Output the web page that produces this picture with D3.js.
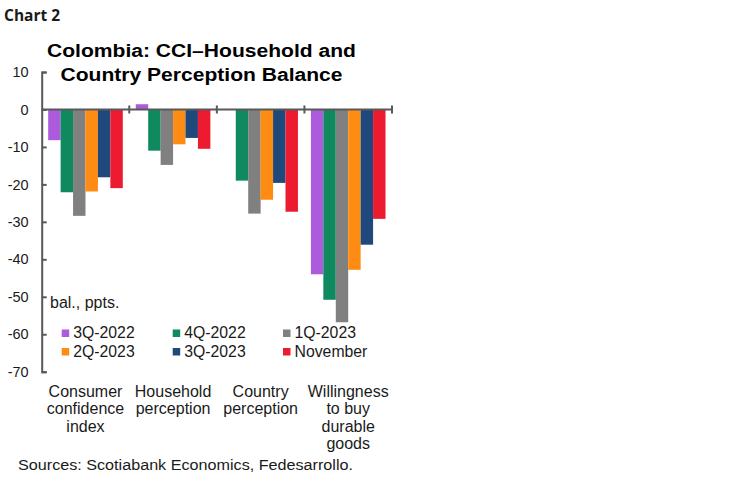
<!DOCTYPE html>
<html>
<head>
<meta charset="utf-8">
<script src="https://cdn.jsdelivr.net/npm/d3@7"></script>
<style>
  html, body { margin: 0; padding: 0; background: #fff; }
  svg { display: block; }
  text { font-family: "Liberation Sans", Arial, sans-serif; fill: #1a1a1a; }
</style>
</head>
<body>
<div id="chart"></div>
<script>
// ---- data ----
const categories = [
  ["Consumer", "confidence", "index"],
  ["Household", "perception"],
  ["Country", "perception"],
  ["Willingness", "to buy", "durable", "goods"]
];
const seriesNames = ["3Q-2022", "4Q-2022", "1Q-2023", "2Q-2023", "3Q-2023", "November"];
const seriesColors = ["#ad5bdd", "#0e8a5e", "#808080", "#ff8c12", "#1f497d", "#ed1b2f"];

const s3Q2022 = [-8.2, 1.4, null, -44.0];
const s4Q2022 = [-22.1, -11.0, -19.0, -50.8];
const s1Q2023 = [-28.4, -14.8, -27.8, -56.8];
const s2Q2023 = [-21.9, -9.3, -24.1, -42.8];
const s3Q2023 = [-18.1, -7.6, -19.6, -36.1];
const sNovember = [-21.0, -10.5, -27.3, -29.2];
const seriesValues = [s3Q2022, s4Q2022, s1Q2023, s2Q2023, s3Q2023, sNovember];

const yTicks = [10, 0, -10, -20, -30, -40, -50, -60, -70];

// ---- layout ----
const width = 750, height = 482;
const axisColor = "#595959";

const svg = d3.select("#chart").append("svg")
  .attr("width", width)
  .attr("height", height);

svg.append("rect").attr("width", width).attr("height", height).attr("fill", "#fff");

const y = d3.scaleLinear().domain([-70, 10]).range([371.7, 72]);

const x0 = d3.scaleBand()
  .domain(d3.range(categories.length))
  .range([41.7, 392])
  .paddingInner(0.148)
  .paddingOuter(0.074);

const x1 = d3.scaleBand()
  .domain(d3.range(seriesNames.length))
  .range([0, x0.bandwidth()]);

// Header
svg.append("text")
  .attr("x", 4).attr("y", 21)
  .style("font-family", "'Open Sans', sans-serif")
  .style("font-weight", "bold")
  .style("font-size", "15.5px")
  .text("Chart 2");

const titleLines = ["Colombia: CCI\u2013Household and", "Country Perception Balance"];
const titleWidths = [309, 282];
svg.append("g").selectAll("text")
  .data(titleLines)
  .join("text")
  .attr("x", 201.5)
  .attr("y", (d, i) => 57 + i * 23.5)
  .attr("text-anchor", "middle")
  .attr("textLength", (d, i) => titleWidths[i])
  .attr("lengthAdjust", "spacingAndGlyphs")
  .style("font-weight", "bold")
  .style("font-size", "18px")
  .style("fill", "#000")
  .text(d => d);

// Bars
const gBars = svg.append("g");
seriesValues.forEach((vals, si) => {
  gBars.append("g")
    .attr("fill", seriesColors[si])
    .selectAll("rect")
    .data(vals.map((v, ci) => ({ v, ci })).filter(d => d.v !== null))
    .join("rect")
    .attr("x", d => x0(d.ci) + x1(si))
    .attr("width", x1.bandwidth())
    .attr("y", d => y(Math.max(0, d.v)))
    .attr("height", d => Math.abs(y(d.v) - y(0)));
});

// Y axis, ticks pointing inward (plain hyphen for negatives, as in the original)
const yAxis = d3.axisLeft(y)
  .tickValues(yTicks)
  .tickSizeInner(-5)
  .tickSizeOuter(-5)
  .tickPadding(13)
  .tickFormat(d => String(d));

const gy = svg.append("g")
  .attr("transform", "translate(41.7,0)")
  .call(yAxis);
gy.selectAll("path, line").attr("stroke", axisColor).attr("stroke-width", 2);
gy.selectAll("text")
  .style("font-family", "'Liberation Sans', Arial, sans-serif")
  .style("font-size", "14.5px")
  .attr("fill", "#1a1a1a");

// X axis along zero with separators between groups
const gx = svg.append("g").attr("transform", `translate(0,${y(0)})`);
gx.append("line")
  .attr("x1", x0.range()[0]).attr("x2", x0.range()[1])
  .attr("stroke", axisColor).attr("stroke-width", 2);
const sepX = d3.range(1, categories.length + 1).map(i => x0.range()[0] + i * x0.step());
gx.selectAll("line.sep")
  .data(sepX)
  .join("line")
  .attr("class", "sep")
  .attr("x1", d => d).attr("x2", d => d)
  .attr("y1", -4).attr("y2", 4)
  .attr("stroke", axisColor).attr("stroke-width", 2);

// Category labels
const gCat = svg.append("g");
categories.forEach((lines, ci) => {
  gCat.append("text")
    .attr("x", x0(ci) + x0.bandwidth() / 2)
    .attr("y", 397)
    .attr("text-anchor", "middle")
    .style("font-size", "16px")
    .selectAll("tspan")
    .data(lines)
    .join("tspan")
    .attr("x", x0(ci) + x0.bandwidth() / 2)
    .attr("dy", (d, i) => i === 0 ? 0 : 17.4)
    .text(d => d);
});

// Unit label
svg.append("text")
  .attr("x", 50).attr("y", 308)
  .style("font-size", "16px")
  .text("bal., ppts.");

// Legend: 3 columns x 2 rows
const legendCols = [61.7, 172.7, 283];
const legendRows = [338, 356.5];
const gLeg = svg.append("g");
seriesNames.forEach((name, i) => {
  const lx = legendCols[i % 3];
  const ly = legendRows[Math.floor(i / 3)];
  gLeg.append("rect")
    .attr("x", lx).attr("y", ly - 8.5)
    .attr("width", 7.5).attr("height", 7.5)
    .attr("fill", seriesColors[i]);
  gLeg.append("text")
    .attr("x", lx + 11.5).attr("y", ly)
    .style("font-size", "15.8px")
    .text(name);
});

// Source
svg.append("text")
  .attr("x", 18).attr("y", 470)
  .attr("textLength", 335)
  .attr("lengthAdjust", "spacingAndGlyphs")
  .style("font-size", "15.5px")
  .text("Sources: Scotiabank Economics, Fedesarrollo.");
</script>
</body>
</html>
